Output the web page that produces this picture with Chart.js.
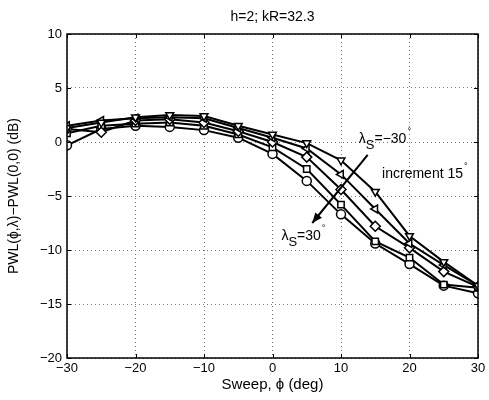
<!DOCTYPE html>
<html><head><meta charset="utf-8">
<script src="https://cdn.jsdelivr.net/npm/chart.js@4.4.0/dist/chart.umd.min.js"></script>
<style>html,body{margin:0;padding:0;background:#fff}#w{width:489px;height:400px}</style>
</head><body><div id="w"><canvas id="c" width="489" height="400"></canvas></div>
<script>
const sweep = [-30,-25,-20,-15,-10,-5,0,5,10,15,20,25,30];
const lamM30 = [1.3, 1.8, 2.3, 2.5, 2.4, 1.5, 0.7, -0.1, -1.7, -4.6, -8.7, -11.1, -13.3];
const lamM15 = [1.5, 2.0, 2.2, 2.3, 2.2, 1.3, 0.4, -0.6, -3.0, -6.2, -9.4, -11.4, -13.3];
const lam0   = [1.2, 0.9, 2.0, 2.1, 1.8, 1.0, 0.0, -1.4, -4.4, -7.8, -9.8, -12.0, -13.4];
const lamP15 = [0.8, 1.5, 1.7, 1.8, 1.5, 0.7, -0.5, -2.5, -5.8, -9.2, -10.7, -13.2, -13.5];
const lamP30 = [-0.3, 1.2, 1.5, 1.4, 1.1, 0.4, -1.1, -3.6, -6.7, -9.4, -11.3, -13.3, -14.0];
const xTicks = [-30,-20,-10,0,10,20,30];
const yTicks = [-20,-15,-10,-5,0,5,10];
const FONT = "'Liberation Sans', Arial, sans-serif";

function ds(label, vals, style, rot){
  return {label, data: sweep.map((x,i)=>({x, y: vals[i]})), borderColor:'#000', borderWidth:2,
    pointStyle: style, pointRotation: rot, pointRadius: style==='rectRot'?5:4.5, pointBorderWidth:1.5,
    pointBackgroundColor:'#fff', pointBorderColor:'#000', fill:false, tension:0};
}

const deco = {
  id:'deco',
  afterDatasetsDraw(chart){
    const {ctx, chartArea:a, scales:{x, y}} = chart;
    ctx.save();
    ctx.strokeStyle='#000'; ctx.lineWidth=1;
    ctx.beginPath();
    xTicks.forEach(v=>{const px=Math.round(x.getPixelForValue(v))+0.5;
      ctx.moveTo(px,a.bottom); ctx.lineTo(px,a.bottom-4); ctx.moveTo(px,a.top); ctx.lineTo(px,a.top+4);});
    yTicks.forEach(v=>{const py=Math.round(y.getPixelForValue(v))+0.5;
      ctx.moveTo(a.left,py); ctx.lineTo(a.left+4,py); ctx.moveTo(a.right,py); ctx.lineTo(a.right-4,py);});
    ctx.stroke();
    ctx.lineWidth=1.5;
    ctx.strokeRect(a.left, a.top, a.right-a.left, a.bottom-a.top);
    const x0=x.getPixelForValue(13.9), y0=y.getPixelForValue(-1.2);
    const x1=x.getPixelForValue(5.8), y1=y.getPixelForValue(-7.5);
    ctx.lineWidth=2; ctx.beginPath(); ctx.moveTo(x0,y0); ctx.lineTo(x1,y1); ctx.stroke();
    const ang=Math.atan2(y1-y0,x1-x0), L=11, W=0.4;
    ctx.fillStyle='#000'; ctx.beginPath(); ctx.moveTo(x1,y1);
    ctx.lineTo(x1-L*Math.cos(ang-W), y1-L*Math.sin(ang-W));
    ctx.lineTo(x1-L*Math.cos(ang+W), y1-L*Math.sin(ang+W)); ctx.closePath(); ctx.fill();
    ctx.fillStyle='#000'; ctx.textBaseline='alphabetic'; ctx.textAlign='left';
    function lam(px, py, rest){
      ctx.font='14px '+FONT; ctx.fillText('λ', px, py);
      let w=ctx.measureText('λ').width;
      ctx.font='13px '+FONT; ctx.fillText('S', px+w, py+6);
      w+=ctx.measureText('S').width;
      ctx.font='14px '+FONT; ctx.fillText(rest, px+w, py);
      w+=ctx.measureText(rest).width;
      ctx.font='9px '+FONT; ctx.fillText('°', px+w+1, py-9);
    }
    lam(x.getPixelForValue(12.6), y.getPixelForValue(-0.05), '=\u221230');
    ctx.font='14px '+FONT;
    const ix=x.getPixelForValue(16.0), iy=y.getPixelForValue(-3.3);
    ctx.fillText('increment 15', ix, iy);
    const iw=ctx.measureText('increment 15').width;
    ctx.font='9px '+FONT; ctx.fillText('°', ix+iw+1, iy-9);
    lam(x.getPixelForValue(1.3), y.getPixelForValue(-9.05), '=30');
    ctx.restore();
  },
  afterDraw(chart){
    const {ctx, chartArea:a}=chart;
    ctx.save(); ctx.fillStyle='#000'; ctx.font='14px '+FONT; ctx.textAlign='center'; ctx.textBaseline='middle';
    ctx.fillText('h=2; kR=32.3', (a.left+a.right)/2, 17);
    ctx.restore();
  }
};

new Chart(document.getElementById('c'), {
  type:'line',
  data:{datasets:[
    ds('λS=-30', lamM30, 'triangle', 180),
    ds('λS=-15', lamM15, 'triangle', 270),
    ds('λS=0', lam0, 'rectRot', 0),
    ds('λS=15', lamP15, 'rect', 0),
    ds('λS=30', lamP30, 'circle', 0)
  ]},
  options:{
    responsive:false, animation:false, devicePixelRatio:1,
    layout:{padding:{top:34, right:11, left:0, bottom:0}},
    plugins:{legend:{display:false}, tooltip:{enabled:false}, title:{display:false}},
    scales:{
      x:{type:'linear', min:-30, max:30,
        afterBuildTicks(s){s.ticks=xTicks.map(v=>({value:v}));},
        afterFit(s){s.height=42;},
        grid:{color:'#777', lineWidth:1, drawTicks:false, tickLength:0},
        border:{display:false, dash:[1,3]},
        ticks:{color:'#000', font:{family:FONT, size:13}, padding:3, maxRotation:0,
          callback:v=>String(v).replace('-','\u2212')},
        title:{display:true, text:'Sweep, \u03d5 (deg)', color:'#000', font:{family:FONT, size:15}, padding:{top:0,bottom:6}}
      },
      y:{type:'linear', min:-20, max:10,
        afterBuildTicks(s){s.ticks=yTicks.map(v=>({value:v}));},
        afterFit(s){s.width=67;},
        grid:{color:'#777', lineWidth:1, drawTicks:false, tickLength:0},
        border:{display:false, dash:[1,3]},
        ticks:{color:'#000', font:{family:FONT, size:13}, padding:5,
          callback:v=>String(v).replace('-','\u2212')},
        title:{display:true, text:'PWL(\u03d5,\u03bb)\u2212PWL(0,0) (dB)', color:'#000', font:{family:FONT, size:14}, padding:{top:6,bottom:0}}
      }
    }
  },
  plugins:[deco]
});
</script></body></html>
